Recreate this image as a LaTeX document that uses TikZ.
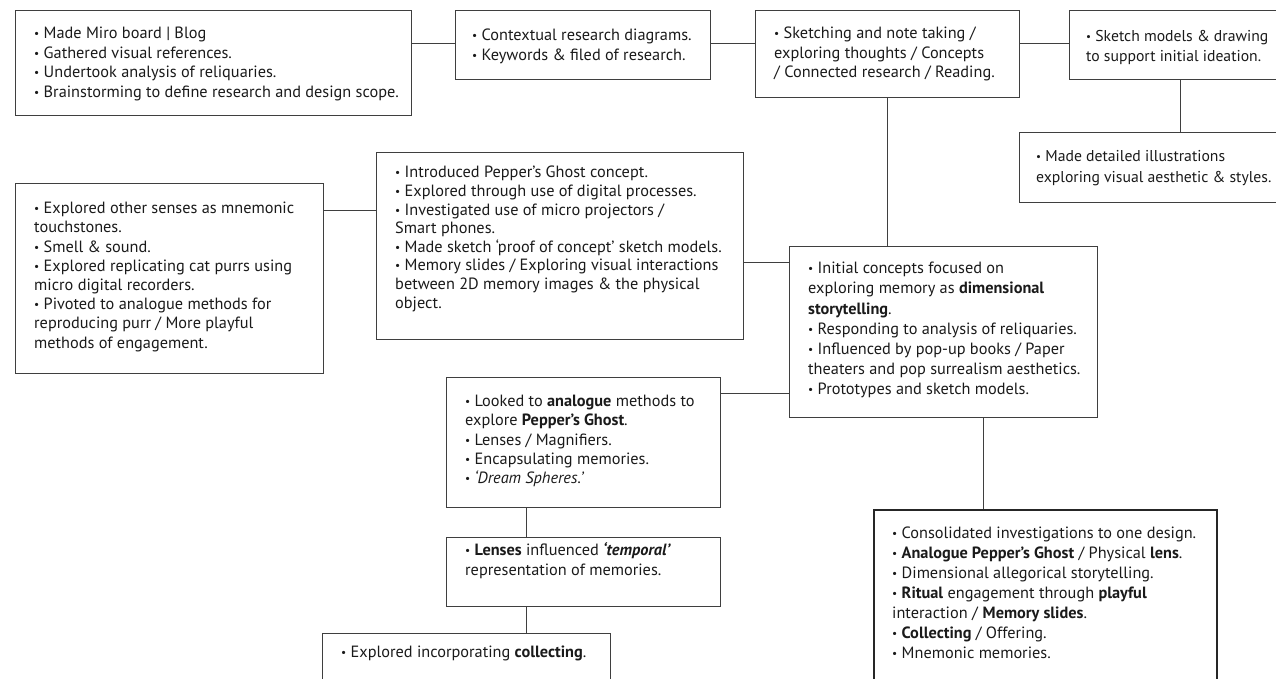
\documentclass[tikz,border=0pt]{standalone}
\usepackage{fontspec}
\usepackage{graphicx}
\setmainfont{PT Sans}
\definecolor{linegray}{HTML}{3F3F3F}
\definecolor{inkblack}{HTML}{1A1A1A}
% small bullet followed by a fixed space
\newcommand\bu{\raisebox{0.12ex}{\scalebox{0.7}{•}}~}
\tikzset{
  box/.style={draw=linegray, line width=1pt, anchor=north west, inner sep=0pt},
  mainbox/.style={draw=black!85, line width=1.8pt, anchor=north west, inner sep=0pt},
  txt/.style={anchor=north west, inner sep=0pt, align=left, text=inkblack,
    font=\fontsize{16.3}{#1}\selectfont},
  txt/.default=19.5,
  txtsm/.style={txt, font=\fontsize{15.7}{#1}\selectfont},
  link/.style={draw=linegray, line width=1pt}
}
\begin{document}
\begin{tikzpicture}[x=1pt,y=1pt]
\useasboundingbox (0,0) rectangle (1276,-678);
\clip (0,0) rectangle (1276,-678);

% boxes
\node[box, minimum width=396, minimum height=105] (a) at (15,-10) {};
\node[box, minimum width=255, minimum height=69]  (b) at (455,-10) {};
\node[box, minimum width=264, minimum height=87]  (c) at (755,-10) {};
\node[box, minimum width=230, minimum height=69]  (d) at (1069,-10) {};
\node[box, minimum width=280, minimum height=70]  (e) at (1019,-132) {};
\node[box, minimum width=308, minimum height=190] (f) at (15,-183) {};
\node[box, minimum width=367, minimum height=187] (h) at (376,-152) {};
\node[box, minimum width=308, minimum height=171] (g) at (789,-246) {};
\node[box, minimum width=274, minimum height=130] (i) at (446,-377) {};
\node[box, minimum width=274, minimum height=69]  (j) at (446,-537) {};
\node[box, minimum width=288, minimum height=70]  (k) at (322,-633) {};
\node[mainbox, minimum width=343, minimum height=190] (l) at (873,-509) {};

% texts
\node[txt=19.6] (ta) at (34,-27) {\bu Made Miro board | Blog\\
\bu Gathered visual references.\\
\bu Undertook analysis of reliquaries.\\
\bu Brainstorming to define research and design scope.};
\node[txt=20] (tb) at (472,-29) {\bu Contextual research diagrams.\\
\bu Keywords \& filed of research.};
\node[txt=19.2] (tc) at (774,-27) {\bu Sketching and note taking /\\
exploring thoughts / Concepts\\
/ Connected research / Reading.};
\node[txtsm=20] (td) at (1086,-30) {\bu Sketch models \& drawing\\
to support initial ideation.};
\node[txtsm=21.5] (te) at (1036,-150) {\bu Made detailed illustrations\\
exploring visual aesthetic \& styles.};
\node[txt=19.2] (tf) at (34,-202) {\bu Explored other senses as mnemonic\\
touchstones.\\
\bu Smell \& sound.\\
\bu Explored replicating cat purrs using\\
micro digital recorders.\\
\bu Pivoted to analogue methods for\\
reproducing purr / More playful\\
methods of engagement.};
\node[txt=18.6] (th) at (395,-166) {\bu Introduced Pepper’s Ghost concept.\\
\bu Explored through use of digital processes.\\
\bu Investigated use of micro projectors /\\
Smart phones.\\
\bu Made sketch ‘proof of concept’ sketch models.\\
\bu Memory slides / Exploring visual interactions\\
between 2D memory images \& the physical\\
object.};
\node[txt=20.2] (tg) at (808,-262) {\bu Initial concepts focused on\\
exploring memory as \textbf{dimensional}\\
\textbf{storytelling}.\\
\bu Responding to analysis of reliquaries.\\
\bu Influenced by pop-up books / Paper\\
theaters and pop surrealism aesthetics.\\
\bu Prototypes and sketch models.};
\node[txt=19.3] (ti) at (465,-395) {\bu Looked to \textbf{analogue} methods to\\
explore \textbf{Pepper’s Ghost}.\\
\bu Lenses / Magnifiers.\\
\bu Encapsulating memories.\\
\bu \textit{‘Dream Spheres.’}};
\node[txt=20] (tj) at (465,-542) {\bu \textbf{Lenses} influenced \textbf{\textit{‘temporal’}}\\
representation of memories.};
\node[txt] (tk) at (341,-646) {\bu Explored incorporating \textbf{collecting}.};
\node[txt=20] (tl) at (892,-527) {\bu Consolidated investigations to one design.\\
\bu \textbf{Analogue Pepper’s Ghost} / Physical \textbf{lens}.\\
\bu Dimensional allegorical storytelling.\\
\bu \textbf{Ritual} engagement through \textbf{playful}\\
interaction / \textbf{Memory slides}.\\
\bu \textbf{Collecting} / Offering.\\
\bu Mnemonic memories.};

% guide rows and columns for the connectors
\coordinate (row1) at (0,-43);
\coordinate (rowF) at (0,-210);
\coordinate (rowH) at (0,-262);
\coordinate (rowI) at (0,-393);
\coordinate (colD) at (1180,0);
\coordinate (colC) at (887,0);
\coordinate (colI) at (526,0);
\coordinate (colG) at (983,0);

% connectors
\draw[link] (a.east |- row1) -- (b.west |- row1);
\draw[link] (b.east |- row1) -- (c.west |- row1);
\draw[link] (c.east |- row1) -- (d.west |- row1);
\draw[link] (d.south -| colD) -- (e.north -| colD);
\draw[link] (c.south -| colC) -- (g.north -| colC);
\draw[link] (f.east |- rowF) -- (h.west |- rowF);
\draw[link] (h.east |- rowH) -- (g.west |- rowH);
\draw[link] (i.east |- rowI) -- (g.west |- rowI);
\draw[link] (i.south -| colI) -- (j.north -| colI);
\draw[link] (j.south -| colI) -- (k.north -| colI);
\draw[link] (g.south -| colG) -- (l.north -| colG);
\end{tikzpicture}
\end{document}
